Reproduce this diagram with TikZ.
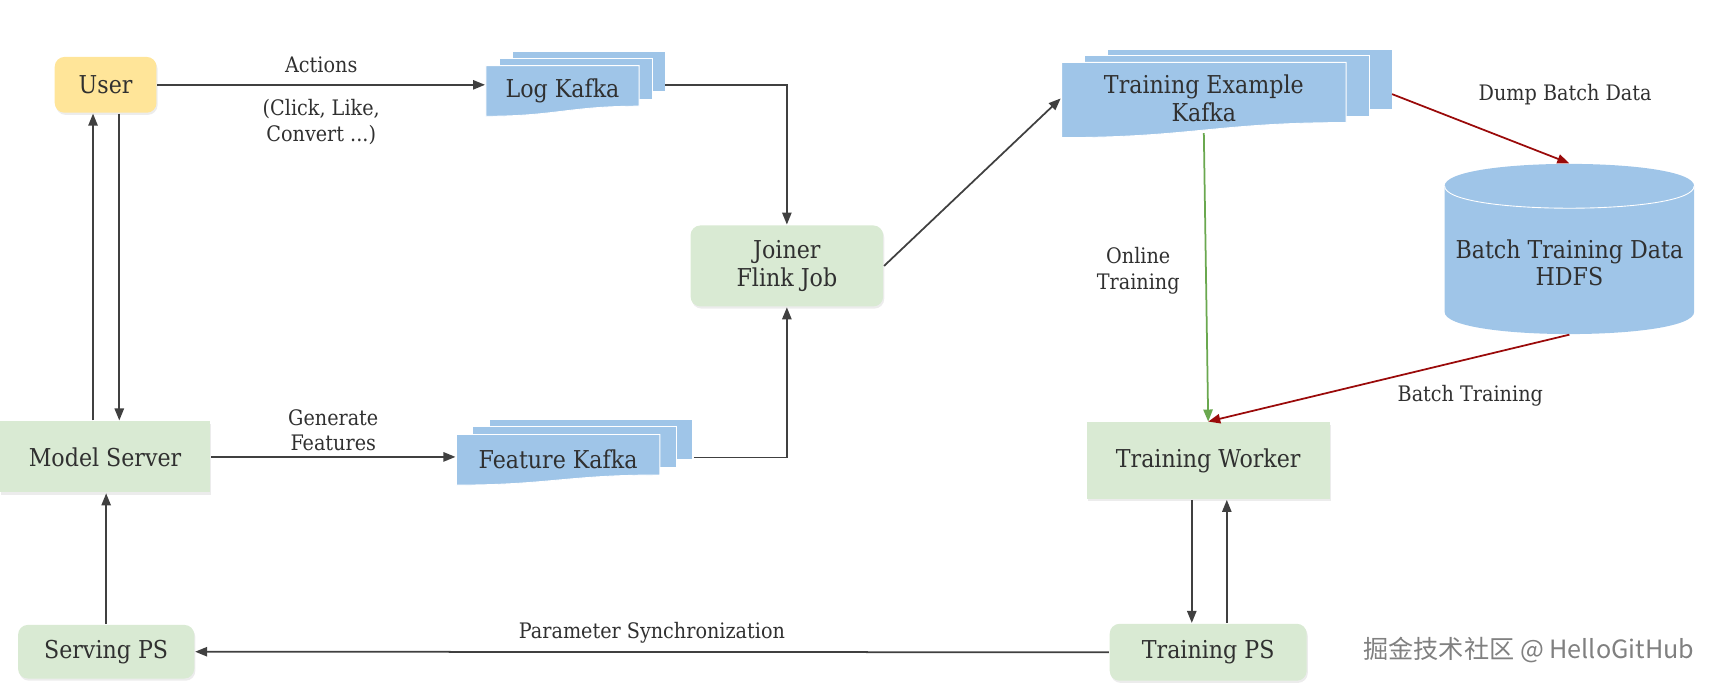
\documentclass[tikz,border=0pt]{standalone}
\usepackage{fontspec}
\setmainfont{DejaVu Serif Condensed}
\newfontfamily\cjkfont{Noto Sans CJK SC}
\usetikzlibrary{arrows.meta,shadows,positioning}

\definecolor{userfill}{HTML}{FFE599}
\definecolor{greenfill}{HTML}{D9EAD3}
\definecolor{bluefill}{HTML}{9FC5E8}
\definecolor{linegray}{HTML}{404040}
\definecolor{textgray}{HTML}{303030}
\definecolor{batchred}{HTML}{9A0A0A}
\definecolor{onlinegreen}{HTML}{6AA84F}

\newcommand{\nodefont}{\fontsize{22.5}{25}\selectfont}
\newcommand{\labelfont}{\fontsize{19.5}{23.5}\selectfont}

\tikzset{
	box/.style={fill=greenfill, text=textgray, font=\nodefont, align=center, inner sep=0pt,
		drop shadow={opacity=0.15, shadow xshift=1pt, shadow yshift=-2pt}},
	roundbox/.style={box, rounded corners=9pt},
	sheet/.style={fill=bluefill, draw=white, line width=0.8pt},
	kafkatext/.style={text=textgray, font=\nodefont, align=center, inner sep=0pt},
	lbl/.style={text=textgray, font=\labelfont, align=center},
	flow/.style={->, draw=linegray},
}

% stacked kafka sheets: name, x, y, width, height, dx, dy, text
\newcommand{\kafka}[8]{%
	\foreach \k in {2,1}
		\draw[sheet] ({#2+\k*#6},{#3-\k*#7}) rectangle ++(#4,#5);
	\draw[sheet] (#2,#3) -- ++(#4,0) -- ++(0,#5)
		.. controls ({#2+0.55*#4},{#3+#5}) and ({#2+0.45*#4},{#3+1.25*#5}) .. (#2,{#3+1.25*#5}) -- cycle;
	\node[kafkatext, minimum width=#4, minimum height={1.125*#5}] (#1) at ({#2+#4/2},{#3+0.5625*#5+2}) {#8};
}

\begin{document}
\begin{tikzpicture}[x=1pt, y=-1pt, line width=1.6pt, >={Triangle[length=11pt, width=8.5pt]}]
	\useasboundingbox (0,0) rectangle (1568,625);

	% left column
	\node[roundbox, fill=userfill, minimum width=93, minimum height=51] (user) at (96.5,77.5) {User};
	\node[box, minimum width=192, minimum height=65] (ms) at (96,417.5) {Model Server};
	\node[roundbox, minimum width=161, minimum height=49] (sps) at (97,595.5) {Serving PS};

	% kafka topics
	\kafka{logk}{444}{60}{140}{37}{12}{6.5}{Log Kafka}
	\kafka{featk}{417}{397}{186}{37}{15}{7}{Feature Kafka}
	\kafka{tek}{970}{57}{260}{55}{21}{6}{Training Example\\Kafka}
	\coordinate (logout) at (608,78);
	\coordinate (featout) at (634,418);
	\coordinate (tekout) at (1272,86);

	\node[roundbox, minimum width=176, minimum height=74] (joiner) at (719,243) {Joiner\\Flink Job};

	% batch storage
	\fill[bluefill] (1320,170) -- (1320,285) .. controls (1320,312) and (1548,312) .. (1548,285)
		-- (1548,170) .. controls (1548,143) and (1320,143) .. (1320,170) -- cycle;
	\draw[white, line width=0.8pt] (1320,170) .. controls (1320,197) and (1548,197) .. (1548,170);
	\node[kafkatext, minimum width=228, minimum height=130] (db) at (1434,240) {Batch Training Data\\HDFS};

	% training side
	\node[box, minimum width=222, minimum height=70] (tw) at (1104,421) {Training Worker};
	\node[roundbox, minimum width=180, minimum height=52] (tps) at (1104,596) {Training PS};

	% connectors
	\draw[flow] (user.east) -- node[lbl, above=7pt] {Actions} node[lbl, below=9pt] {(Click, Like,\\Convert ...)} (user.east -| logk.west);
	\draw[flow] ([xshift=12.5pt]user.south) -- ([xshift=13pt]ms.north);
	\draw[flow] ([xshift=-11pt]ms.north) -- ([xshift=-11.5pt]user.south);
	\draw[flow] (sps.north) -- (sps.north |- ms.south);
	\draw[flow] (ms.east) -- node[lbl, above=1pt] {Generate\\Features} (ms.east -| featk.west);
	\draw[flow] (logout) -| (joiner.north);
	\draw[flow] (featout) -| (joiner.south);
	\draw[flow] (joiner.east) -- (tek.west);
	\draw[->, draw=batchred] (tekout) -- node[lbl, above right=18pt and -6pt] {Dump Batch Data} ([yshift=25pt]db.north);
	\draw[->, draw=onlinegreen] (tek.south) -- node[lbl, left=20pt, yshift=6pt] {Online\\Training} (tw.north);
	\draw[->, draw=batchred] (db.south) -- node[lbl, below right=2pt and 4pt] {Batch Training} (tw.north);
	\draw[flow] ([xshift=-15pt]tw.south) -- ([xshift=-15pt]tps.north);
	\draw[flow] ([xshift=17pt]tps.north) -- ([xshift=17pt]tw.south);
	\draw[flow] (tps.west) -- node[lbl, above=4pt] {Parameter Synchronization} (sps.east);

	\node[font=\cjkfont\fontsize{23}{27}\selectfont, text=gray] (mark) at (1397,594) {掘金技术社区 @ HelloGitHub};
\end{tikzpicture}
\end{document}
